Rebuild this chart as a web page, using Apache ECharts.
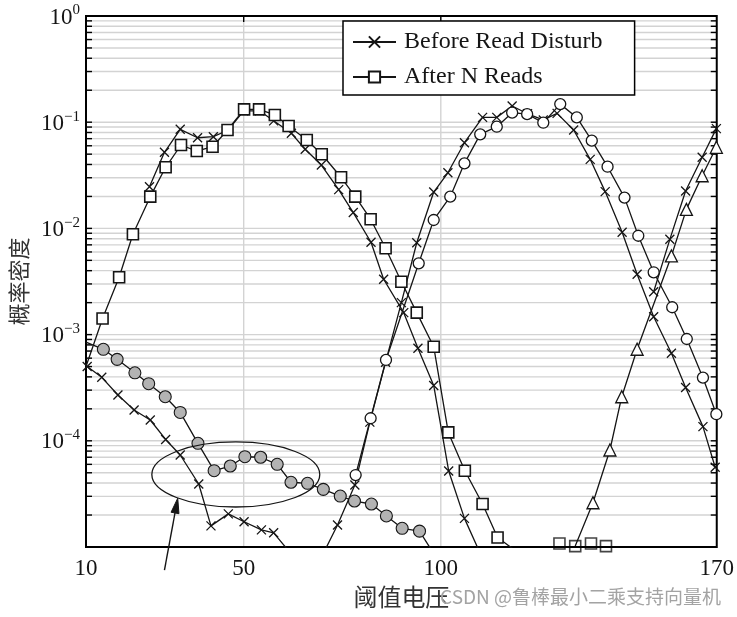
<!DOCTYPE html>
<html><head><meta charset="utf-8">
<script src="https://cdn.jsdelivr.net/npm/echarts@6/dist/echarts.min.js"></script>
<style>html,body{margin:0;padding:0;background:#fff}#c{width:737px;height:617px}</style>
</head><body><div id="c"></div>
<script>
// ---------- axis / tick data ----------
const xTickLabels = [10, 50, 100, 170];
const xGridValues = [50, 100];
const yDecades = [-5, -4, -3, -2, -1];
const yMinorSteps = [1, 2, 3, 4, 5, 6, 7, 8, 9];

// ---------- series data (x = threshold voltage, y = probability density) ----------
// Before Read Disturb (x markers)
const beforeE_x = [10.3, 14.0, 18.1, 22.2, 26.3, 30.2, 33.9, 38.6, 41.7, 46.1, 50.1, 54.5, 57.6, 63.0];
const beforeE_y = [5.0e-4, 3.96e-4, 2.70e-4, 1.95e-4, 1.57e-4, 1.03e-4, 7.35e-5, 3.92e-5, 1.58e-5, 2.05e-5, 1.73e-5, 1.45e-5, 1.36e-5, 7.8e-6];

const beforeP1_x = [26.1, 29.9, 33.9, 38.3, 42.3, 46.0, 50.0, 54.0, 57.6, 62.1, 65.6, 69.7, 74.1, 77.8, 82.3, 85.5, 90.6, 94.2, 98.2, 102.0, 106.0, 111.0];
const beforeP1_y = [2.47e-2, 5.21e-2, 8.57e-2, 7.14e-2, 7.30e-2, 8.4e-2, 0.128, 0.128, 0.103, 7.86e-2, 5.56e-2, 3.95e-2, 2.32e-2, 1.41e-2, 7.40e-3, 3.32e-3, 1.61e-3, 7.43e-4, 3.32e-4, 5.2e-5, 1.86e-5, 7.2e-6];

const beforeP2_x = [70.0, 73.8, 78.2, 82.0, 86.0, 90.0, 93.9, 98.2, 101.8, 106.0, 110.6, 114.2, 118.1, 122.0, 126.0, 129.5, 133.7, 137.9, 141.7, 146.0, 149.8, 154.0, 158.5, 162.1, 166.5, 169.6];
const beforeP2_y = [8.4e-6, 1.61e-5, 3.84e-5, 1.5e-4, 5.5e-4, 2.0e-3, 7.33e-3, 2.20e-2, 3.34e-2, 6.41e-2, 0.111, 0.111, 0.142, 0.12, 0.105, 0.121, 8.45e-2, 4.47e-2, 2.22e-2, 9.19e-3, 3.70e-3, 1.47e-3, 6.67e-4, 3.18e-4, 1.36e-4, 5.63e-5];

const beforeP3_x = [154.0, 158.1, 162.1, 166.3, 169.9];
const beforeP3_y = [2.53e-3, 7.89e-3, 2.25e-2, 4.67e-2, 8.7e-2];

// After N Reads (squares, circles, triangles, grey dots)
const afterP1_x = [10.0, 14.2, 18.4, 21.9, 26.3, 30.2, 34.1, 38.1, 42.1, 45.9, 50.1, 53.9, 57.9, 61.4, 66.0, 69.8, 74.7, 78.3, 82.2, 86.0, 90.0, 93.9, 98.2, 101.9, 106.1, 110.6, 114.4, 122.0];
const afterP1_y = [5.0e-4, 1.42e-3, 3.47e-3, 8.80e-3, 1.99e-2, 3.76e-2, 6.10e-2, 5.35e-2, 5.88e-2, 8.45e-2, 0.132, 0.132, 0.117, 9.21e-2, 6.80e-2, 4.99e-2, 3.03e-2, 1.99e-2, 1.22e-2, 6.50e-3, 3.15e-3, 1.61e-3, 7.69e-4, 1.20e-4, 5.23e-5, 2.54e-5, 1.23e-5, 7.6e-6];

const afterFloor_x = [130.1, 134.1, 138.1, 141.9];
const afterFloor_y = [1.08e-5, 1.02e-5, 1.08e-5, 1.02e-5];

const afterP2_x = [78.4, 82.2, 86.1, 94.4, 98.2, 102.4, 106.0, 110.0, 114.2, 118.1, 121.9, 126.0, 130.3, 134.5, 138.3, 142.3, 146.6, 150.1, 154.0, 158.7, 162.4, 166.5, 169.9];
const afterP2_y = [4.76e-5, 1.63e-4, 5.77e-4, 4.69e-3, 1.20e-2, 1.99e-2, 4.10e-2, 7.69e-2, 9.07e-2, 0.123, 0.119, 9.89e-2, 0.148, 0.111, 6.70e-2, 3.81e-2, 1.95e-2, 8.53e-3, 3.86e-3, 1.81e-3, 9.09e-4, 3.93e-4, 1.78e-4];

const afterP3_x = [134.1, 138.6, 142.9, 145.9, 149.8, 158.5, 162.3, 166.3, 169.9];
const afterP3_y = [1.02e-5, 2.61e-5, 8.19e-5, 2.60e-4, 7.28e-4, 5.50e-3, 1.51e-2, 3.13e-2, 5.80e-2];

const afterE_x = [10.0, 14.4, 17.9, 22.4, 25.9, 30.1, 33.9, 38.4, 42.5, 46.6, 50.3, 54.3, 58.5, 62.0, 66.2, 70.2, 74.5, 78.1, 82.4, 86.2, 90.2, 94.6, 98.0];
const afterE_y = [8.5e-4, 7.27e-4, 5.85e-4, 4.37e-4, 3.45e-4, 2.60e-4, 1.85e-4, 9.47e-5, 5.23e-5, 5.79e-5, 7.08e-5, 7.00e-5, 6.01e-5, 4.07e-5, 3.98e-5, 3.49e-5, 3.02e-5, 2.71e-5, 2.54e-5, 1.96e-5, 1.50e-5, 1.41e-5, 8.9e-6];

// annotation (data coordinates)
const ellipseX = [26.7, 69.3];
const ellipseY = [9.75e-5, 2.38e-5];
const arrowFrom = [29.9, 6.07e-6];
const arrowTo = [33.27, 2.88e-5];

// ---------- build ----------
const SERIF = '"Liberation Serif","Times New Roman",serif';
const CJK = '"Noto Sans CJK SC","Noto Sans",sans-serif';
const INK = '#151515';
const CROSS = 'path://M0,0L10,10M0,10L10,0';

function pts(xs, ys, hideFirst) {
  return xs.map((x, i) => (hideFirst && i === 0) ? {value: [x, ys[i]], symbol: 'none'} : [x, ys[i]]);
}
const yGridValues = [];
yDecades.forEach(d => yMinorSteps.forEach(m => yGridValues.push(m * Math.pow(10, d))));

const lineBase = {type: 'line', clip: true, showAllSymbol: true, lineStyle: {color: INK, width: 1.3}, emphasis: {disabled: true}};
const crossStyle = Object.assign({}, lineBase, {
  name: 'Before Read Disturb', symbol: CROSS, symbolSize: 9,
  itemStyle: {color: INK, borderColor: INK, borderWidth: 1.3}
});
const squareStyle = {symbol: 'rect', symbolSize: 11, itemStyle: {color: '#fff', borderColor: INK, borderWidth: 1.6}};
const circleStyle = {symbol: 'circle', symbolSize: 11, itemStyle: {color: '#fff', borderColor: INK, borderWidth: 1.3}};
const triStyle = {symbol: 'triangle', symbolSize: 12, itemStyle: {color: '#fff', borderColor: INK, borderWidth: 1.3}};
const greyStyle = {symbol: 'circle', symbolSize: 12, itemStyle: {color: '#b3b3b3', borderColor: INK, borderWidth: 1.1}};

const chart = echarts.init(document.getElementById('c'), null, {renderer: 'canvas'});
chart.setOption({
  animation: false,
  backgroundColor: '#fff',
  grid: {left: 86, right: 16, top: 16, bottom: 70, show: true, borderColor: '#000', borderWidth: 2, backgroundColor: 'transparent', z: 3},
  legend: {
    data: ['Before Read Disturb', 'After N Reads'], selectedMode: false,
    orient: 'vertical', left: 343, top: 21, padding: [7, 32, 4, 9], itemGap: 7,
    itemWidth: 43, itemHeight: 14, borderColor: '#000', borderWidth: 1.5, backgroundColor: '#fff', borderRadius: 0,
    textStyle: {fontFamily: SERIF, fontSize: 24, color: INK, lineHeight: 28, padding: [0, 0, 0, 3]}
  },
  xAxis: {
    type: 'value', min: 10, max: 170, interval: 10,
    axisLine: {show: false}, axisTick: {show: false}, splitLine: {show: false},
    axisLabel: {margin: 10, fontFamily: SERIF, fontSize: 23, color: INK, hideOverlap: false,
      formatter: v => xTickLabels.includes(v) ? String(v) : ''},
    name: '阈值电压', nameLocation: 'middle', nameGap: 37,
    nameTextStyle: {fontFamily: CJK, fontSize: 24, color: '#333'}
  },
  yAxis: {
    type: 'log', logBase: 10, min: 1e-5, max: 1,
    axisLine: {show: false}, axisTick: {show: false}, splitLine: {show: false}, minorSplitLine: {show: false},
    axisLabel: {
      margin: 6, showMinLabel: true,
      formatter: v => {
        const e = Math.round(Math.log10(v));
        if (e <= -5) return '';
        return '{b|10}{s|' + (e < 0 ? '\u2212' + (-e) : String(e)) + '}';
      },
      rich: {
        b: {fontFamily: SERIF, fontSize: 23, color: INK, lineHeight: 26, verticalAlign: 'bottom'},
        s: {fontFamily: SERIF, fontSize: 15, color: INK, lineHeight: 15, verticalAlign: 'top'}
      }
    },
    name: '概率密度', nameLocation: 'middle', nameGap: 56,
    nameTextStyle: {fontFamily: CJK, fontSize: 22, color: '#333'}
  },
  series: [
    {
      type: 'custom', name: 'ygrid', z: 1, silent: true, clip: false,
      data: yGridValues.map(v => [10, v]), encode: {x: 0, y: 1},
      renderItem: (params, api) => {
        const v = api.value(1);
        const a = api.coord([10, v]), b = api.coord([170, v]);
        if (Math.abs(Math.log10(v) + 5) < 1e-6) return {type: 'group', children: []};
        return {type: 'group', children: [
          {type: 'line', shape: {x1: a[0], y1: a[1], x2: b[0], y2: b[1]}, style: {stroke: '#d3d3d3', lineWidth: 1.4}},
          {type: 'line', shape: {x1: a[0], y1: a[1], x2: a[0] + 6, y2: a[1]}, style: {stroke: '#000', lineWidth: 1.4}},
          {type: 'line', shape: {x1: b[0] - 6, y1: b[1], x2: b[0], y2: b[1]}, style: {stroke: '#000', lineWidth: 1.4}}
        ]};
      }
    },
    {
      type: 'custom', name: 'xgrid', z: 1, silent: true, clip: false,
      data: xGridValues.map(x => [x, 1]), encode: {x: 0, y: 1},
      renderItem: (params, api) => {
        const x = api.value(0);
        const t = api.coord([x, 1]), b = api.coord([x, 1e-5]);
        return {type: 'group', children: [
          {type: 'line', shape: {x1: t[0], y1: t[1], x2: b[0], y2: b[1]}, style: {stroke: '#d3d3d3', lineWidth: 1.4}},
          {type: 'line', shape: {x1: t[0], y1: t[1], x2: t[0], y2: t[1] + 6}, style: {stroke: '#000', lineWidth: 1.4}}
        ]};
      }
    },
    Object.assign({}, lineBase, greyStyle, {name: 'after-E', data: pts(afterE_x, afterE_y, true)}),
    Object.assign({}, crossStyle, {data: pts(beforeE_x, beforeE_y)}),
    Object.assign({}, crossStyle, {data: pts(beforeP1_x, beforeP1_y)}),
    Object.assign({}, lineBase, squareStyle, {name: 'After N Reads', data: pts(afterP1_x, afterP1_y, true)}),
    Object.assign({}, crossStyle, {data: pts(beforeP2_x, beforeP2_y)}),
    Object.assign({}, lineBase, circleStyle, {name: 'after-P2', data: pts(afterP2_x, afterP2_y)}),
    Object.assign({}, crossStyle, {data: pts(beforeP3_x, beforeP3_y)}),
    Object.assign({}, lineBase, triStyle, {name: 'after-P3', data: pts(afterP3_x, afterP3_y, true)}),
    Object.assign({}, squareStyle, {type: 'scatter', name: 'After N Reads', clip: true, data: pts(afterFloor_x, afterFloor_y), emphasis: {disabled: true}})
  ]
});

// ---------- annotation: ellipse + arrow, placed through the axes ----------
const px = p => chart.convertToPixel({gridIndex: 0}, p);
const e1 = px([ellipseX[0], ellipseY[0]]), e2 = px([ellipseX[1], ellipseY[1]]);
const T = px(arrowFrom), P = px(arrowTo);
const dx = P[0] - T[0], dy = P[1] - T[1], len = Math.hypot(dx, dy);
const ux = dx / len, uy = dy / len, L = 15, W = 4;
const base = [P[0] - ux * L, P[1] - uy * L];
chart.setOption({
  graphic: [
    {type: 'ellipse', z: 50, silent: true,
      shape: {cx: (e1[0] + e2[0]) / 2, cy: (e1[1] + e2[1]) / 2, rx: Math.abs(e2[0] - e1[0]) / 2, ry: Math.abs(e2[1] - e1[1]) / 2},
      style: {fill: 'none', stroke: INK, lineWidth: 1.3}},
    {type: 'line', z: 50, silent: true, shape: {x1: T[0], y1: T[1], x2: base[0], y2: base[1]}, style: {stroke: INK, lineWidth: 1.4}},
    {type: 'polygon', z: 50, silent: true,
      shape: {points: [P, [base[0] - uy * W, base[1] + ux * W], [base[0] + uy * W, base[1] - ux * W]]},
      style: {fill: INK, stroke: INK, lineWidth: 1}},
    {type: 'text', z: 60, silent: true, right: 16, top: 587,
      style: {text: 'CSDN @鲁棒最小二乘支持向量机', font: '19px "Noto Sans CJK SC", sans-serif', fill: '#a3a3a3'}}
  ]
});
</script>
</body></html>
